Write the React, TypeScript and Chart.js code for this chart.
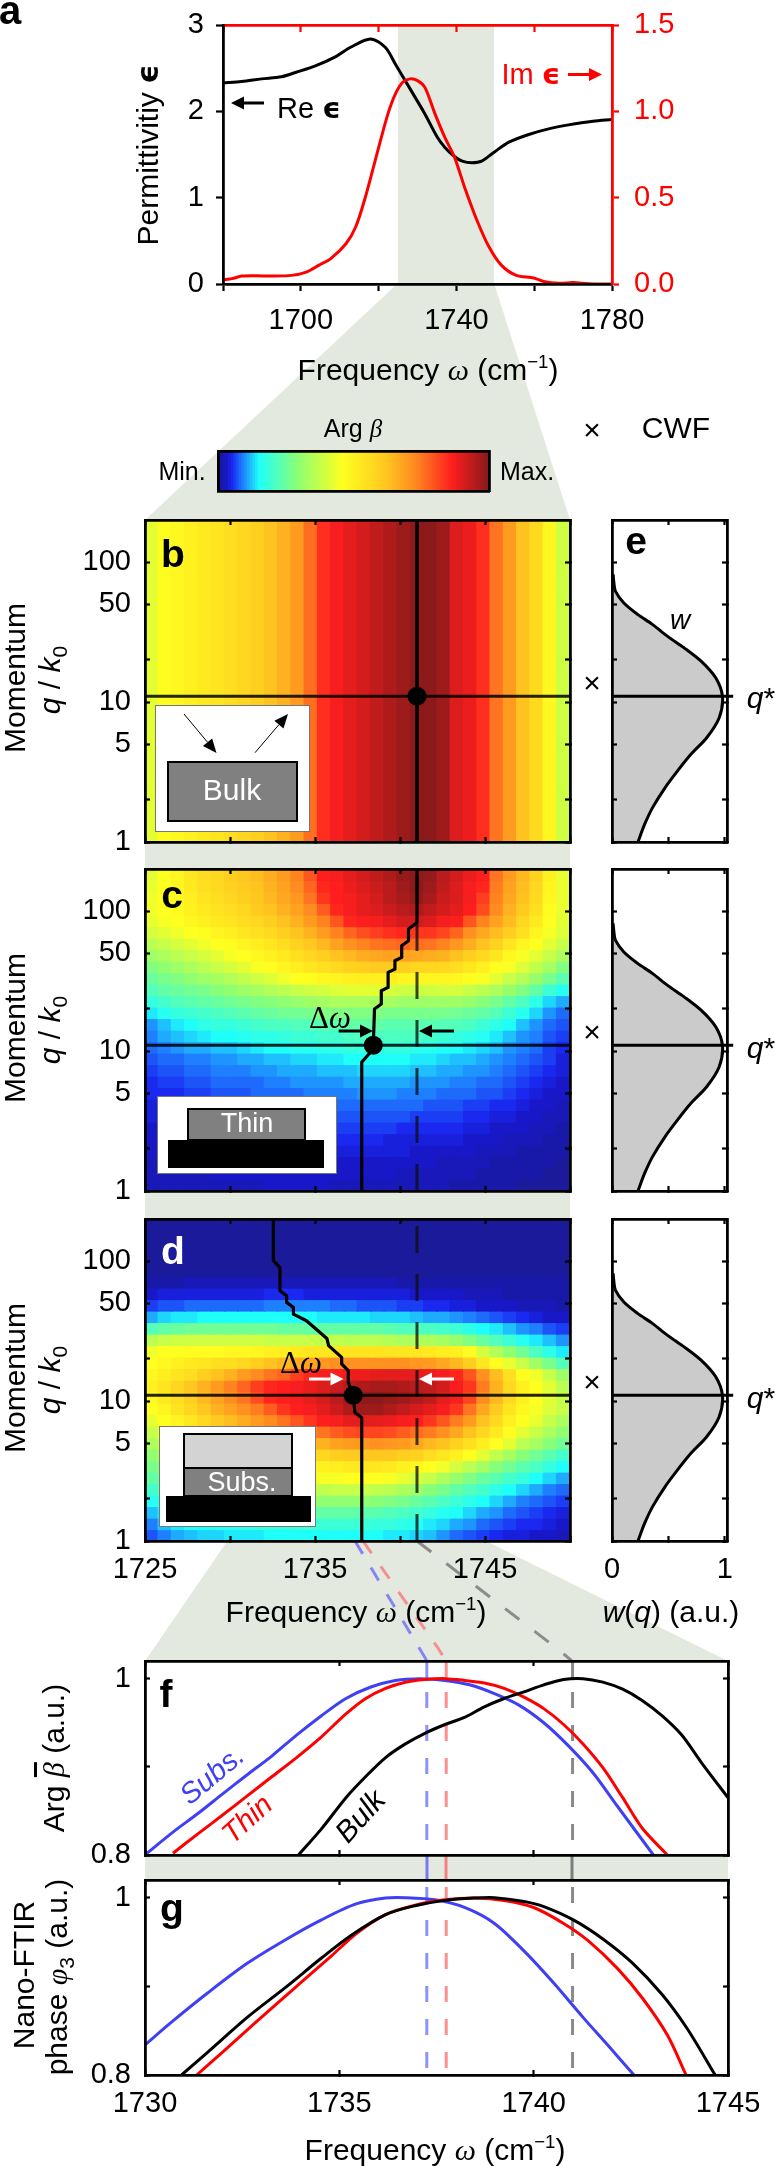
import React, { useEffect, useRef } from "react";
import { Chart, registerables } from "chart.js";

Chart.register(...registerables);

const FONT = "'Liberation Sans', Arial, sans-serif";
const SERIF = "'Liberation Serif', 'DejaVu Serif', serif";

// ---- panel a
const reFreq = [1680,1684.8,1689.9,1695,1698.8,1703.9,1709,1712.8,1717.9,1721.7,1724.3,1728.1,1731.9,1735.1,1737,1739.5,1741.5,1744,1746.5,1749.7,1753.5,1758.6,1763.7,1768.8,1775.1,1780];
const reVal = [2.33,2.345,2.376,2.4,2.453,2.53,2.634,2.742,2.838,2.742,2.549,2.26,1.97,1.7,1.585,1.477,1.423,1.404,1.423,1.527,1.643,1.732,1.797,1.843,1.886,1.905];
const imFreq = [1680,1682.3,1684.8,1688.7,1692.5,1697.6,1701.4,1704.6,1707.7,1711.6,1714.1,1716.6,1719.8,1722.4,1724.3,1726.2,1728.1,1730,1731.9,1734.5,1737,1739.5,1742.1,1745.3,1748.4,1751.6,1755.4,1759.9,1762.4,1766.3,1770,1773.9,1780];
const imVal = [0.025,0.031,0.046,0.048,0.046,0.05,0.069,0.108,0.147,0.233,0.33,0.503,0.773,0.985,1.1,1.168,1.188,1.178,1.139,0.985,0.85,0.735,0.561,0.368,0.214,0.108,0.05,0.035,0.015,0.004,0.008,0.002,0];

// ---- heatmap grid
const freqCols = [1725.391,1726.172,1726.953,1727.734,1728.516,1729.297,1730.078,1730.859,1731.641,1732.422,1733.203,1733.984,1734.766,1735.547,1736.328,1737.109,1737.891,1738.672,1739.453,1740.234,1741.016,1741.797,1742.578,1743.359,1744.141,1744.922,1745.703,1746.484,1747.266,1748.047,1748.828,1749.609];
const qEdges = [200,165.5,137,113.4,93.8,77.6,64.3,53.2,44.01,36.43,30.15,24.95,20.65,17.09,14.14,11.7,9.685,8.015,6.633,5.49,4.543,3.76,3.112,2.575,2.131,1.764,1.46,1.208,1];

const heatB = [42,47,48,50,52,54,56,58,60,63,66,70,77,85,88,90,92,94,96,98,100,100,98,91,89,85,76,70,63,57,48,39];

const heatC = [
[42,46,49,53,56,58,60,62,64,67,70,74,80,87,88,90,92,94,96,99,100,99,95,92,89,87,76,70,65,59,50,43],
[43,46,49,52,55,57,59,61,63,66,69,73,78,86,87,89,91,93,95,98,100,98,94,91,88,86,75,69,64,58,49,43],
[44,46,48,51,54,56,58,60,62,65,68,71,76,84,87,88,90,92,95,97,99,97,93,91,88,83,74,68,63,57,48,43],
[44,46,47,50,52,54,56,58,61,63,66,69,73,79,86,88,90,91,93,95,96,94,92,90,87,81,73,66,61,55,47,43],
[43,45,46,48,50,52,54,56,58,60,63,66,70,74,80,86,87,88,90,92,92,91,88,87,80,74,69,64,58,52,46,42],
[40,42,44,46,47,49,51,53,55,57,60,63,66,70,74,78,81,83,85,86,84,84,82,78,72,68,64,60,55,49,45,41],
[36,38,40,42,44,46,47,49,51,53,56,59,62,65,69,72,74,76,77,78,77,76,74,71,67,63,59,54,49,46,42,38],
[32,34,36,38,40,42,45,46,48,50,52,55,58,60,63,65,67,68,69,69,68,67,66,63,60,57,53,48,45,42,38,34],
[28,30,32,34,36,38,40,42,45,47,49,51,53,55,57,59,60,61,61,60,58,58,58,56,53,50,47,45,41,37,33,28],
[25,27,28,30,32,33,35,37,39,41,44,46,47,48,49,50,51,51,50,49,48,49,49,48,47,45,42,38,35,31,27,23],
[22,24,25,26,27,29,30,32,33,35,36,38,39,40,41,42,42,42,40,39,38,39,40,40,38,36,34,31,28,24,19,16],
[18,20,22,23,24,25,26,27,28,29,30,31,32,33,34,34,34,33,33,32,32,32,32,32,31,29,27,24,21,17,13,11],
[14,16,18,19,20,21,22,23,24,25,26,26,27,28,28,28,28,28,27,27,27,27,27,26,25,24,22,19,16,13,10,8],
[10,12,14,15,17,18,18,19,20,21,21,22,22,23,23,24,24,24,23,23,23,23,22,22,21,19,17,15,12,10,8,7],
[9,11,12,13,14,15,15,16,17,17,18,19,19,20,20,21,21,21,21,21,21,20,19,18,17,16,14,12,10,9,7,6],
[8,9,10,11,11,12,12,13,14,15,15,16,16,17,17,18,18,18,18,18,17,16,15,15,14,13,12,10,9,8,6,5],
[7,8,8,9,9,10,10,11,11,12,12,13,13,14,14,15,15,15,15,15,14,14,13,12,12,11,10,9,8,7,6,4],
[6,7,7,8,8,9,9,9,10,10,11,11,11,12,12,12,13,13,13,13,12,12,11,11,10,10,9,8,7,6,5,4],
[5,6,6,7,7,8,8,8,8,9,9,10,10,10,10,11,11,11,11,11,10,10,10,9,9,8,8,7,6,5,4,3],
[5,5,5,6,6,7,7,7,8,8,8,8,9,9,9,9,10,10,10,9,9,9,8,8,8,7,7,6,5,4,3,3],
[4,4,5,5,5,6,6,6,7,7,7,7,8,8,8,8,8,8,8,8,8,7,7,7,6,6,5,5,4,3,3,2],
[4,4,4,5,5,5,5,5,6,6,6,6,7,7,7,7,7,7,7,7,6,6,6,6,5,5,4,4,3,3,2,2],
[3,4,4,4,4,4,5,5,5,5,5,5,5,6,6,6,6,6,6,5,5,5,5,5,4,4,3,3,3,2,2,1],
[3,3,4,4,4,4,4,4,4,4,4,5,5,5,5,5,5,5,4,4,4,4,4,4,3,3,3,2,2,2,1,1],
[3,3,3,3,3,3,4,4,4,4,4,4,4,4,4,4,4,4,4,4,3,3,3,3,3,2,2,2,1,1,1,1],
[2,3,3,3,3,3,3,3,3,3,3,3,3,3,3,3,3,3,3,3,3,3,2,2,2,2,1,1,1,1,1,0],
[2,2,2,2,2,3,3,3,3,3,3,3,3,3,3,3,3,3,3,2,2,2,2,2,2,1,1,1,1,1,0,0],
[2,2,2,2,2,2,2,2,2,3,3,3,3,3,2,2,2,2,2,2,2,2,2,1,1,1,1,1,0,0,0,0],
];

const heatD = [
[0,0,0,0,0,0,0,0,0,0,0,0,0,0,0,0,0,0,0,0,0,0,0,0,0,0,0,0,0,0,0,0],
[0,0,0,0,0,0,0,0,0,0,0,0,0,0,0,0,0,0,0,0,0,0,0,0,0,0,0,0,0,0,0,0],
[0,0,0,0,0,0,0,0,0,0,0,0,0,0,0,0,0,0,0,0,0,0,0,0,0,0,0,0,0,0,0,0],
[0,0,0,0,0,0,0,0,0,0,0,0,0,0,0,0,0,0,0,0,0,0,0,0,0,0,0,0,0,0,0,0],
[0,0,0,0,0,0,0,0,0,0,0,0,0,0,0,0,0,0,0,0,0,0,0,0,0,0,0,0,0,0,0,0],
[1,1,1,2,2,2,2,2,2,2,2,2,2,2,2,2,2,2,2,1,1,1,1,1,1,1,1,1,1,1,1,1],
[3,4,4,4,4,4,4,4,4,5,5,5,4,4,4,4,4,4,4,4,3,3,3,3,2,2,2,1,1,1,1,1],
[6,7,7,8,8,8,8,8,8,9,9,9,9,9,8,8,7,7,7,6,6,5,5,4,4,3,3,3,2,2,2,1],
[11,13,14,14,15,15,15,15,15,15,15,15,15,14,14,14,14,13,13,13,12,11,11,10,9,8,7,6,5,4,3,3],
[22,24,25,26,26,26,26,26,26,26,25,25,24,24,24,24,24,24,23,22,22,21,20,19,17,15,14,12,10,9,7,6],
[36,38,39,39,39,39,39,39,39,38,38,38,38,37,37,36,36,36,35,34,34,34,33,31,28,25,22,19,16,14,12,10],
[44,46,46,47,47,47,48,48,49,50,51,52,53,53,54,54,54,54,54,53,53,52,51,50,47,40,35,30,26,21,17,14],
[46,48,50,52,53,55,56,58,60,63,65,67,69,71,72,72,72,72,72,72,71,70,68,65,60,53,47,43,38,32,27,22],
[48,51,54,56,60,63,66,70,73,76,78,83,86,88,88,89,89,90,90,90,90,89,88,86,80,72,64,55,47,44,38,32],
[50,54,58,62,66,70,74,78,83,86,87,88,89,91,93,95,96,97,97,96,95,94,92,88,84,75,66,57,50,46,42,36],
[48,52,56,60,65,69,73,76,81,86,87,88,90,92,95,98,100,100,99,98,96,94,90,88,82,73,65,57,50,46,42,38],
[46,49,54,58,62,66,69,72,75,79,84,87,88,90,93,96,98,98,96,94,92,90,88,84,76,68,61,54,48,45,41,38],
[43,46,49,53,57,61,64,67,70,73,76,80,84,87,88,90,90,90,89,88,87,84,80,75,70,63,57,50,46,43,38,34],
[38,42,45,48,52,55,58,61,64,66,68,71,73,76,79,81,82,82,81,79,77,75,72,68,63,58,52,47,42,38,34,30],
[34,38,42,45,47,49,52,54,56,58,60,62,65,66,69,70,71,72,71,70,68,65,63,59,55,51,46,42,36,33,29,26],
[30,34,38,41,44,46,47,49,50,52,53,55,56,58,60,61,62,62,62,60,59,56,53,50,46,42,37,33,29,26,23,20],
[27,30,33,36,39,41,43,45,46,46,47,47,49,50,51,52,53,53,52,50,48,46,44,40,36,33,29,26,23,21,18,15],
[24,26,29,31,34,36,38,39,40,41,42,43,44,45,45,46,46,46,45,43,40,38,34,31,28,25,23,20,18,15,13,11],
[20,23,25,27,29,30,31,32,33,34,35,36,37,37,38,38,38,37,36,34,32,29,27,24,22,20,17,15,13,11,9,8],
[16,18,20,22,23,24,25,26,27,28,29,29,30,30,30,30,30,29,28,27,25,23,21,19,17,15,13,11,9,8,7,6],
[12,14,16,17,18,19,20,21,22,22,23,23,24,24,24,24,23,23,22,21,20,18,16,15,13,11,10,8,7,6,5,4],
[9,12,14,15,15,16,16,17,18,18,18,19,19,19,19,19,19,18,18,17,16,14,13,11,10,8,7,6,5,5,4,3],
[7,9,11,12,13,13,14,14,14,15,15,15,15,15,15,15,15,15,14,14,13,12,10,8,7,6,5,4,4,3,3,2],
];

// ---- maxima ridges in c and d
const ridgeCFreq = [1741,1741,1740.5,1740.5,1740.1,1740.1,1739.7,1739.7,1739.3,1739.3,1738.9,1738.9,1738.5,1738.43,1738.2,1737.75,1737.75];
const ridgeCQ = [200,83,74.4,61.5,56.6,46.7,44.2,38.5,36.5,28.5,27,21.7,20,11,9.6,8.34,1];
const ridgeDFreq = [1732.55,1732.55,1732.94,1732.94,1733.33,1733.33,1733.73,1733.73,1734.5,1735.7,1735.8,1736.57,1736.57,1736.96,1736.96,1737.25,1737.35,1737.75,1737.75];
const ridgeDQ = [200,100.7,90,61.5,56.6,50.7,46.7,41.8,37.5,28,24.9,20.5,18.4,16.5,13.6,10.9,8.3,7.6,1];
const qStar = 11;
const bulkPeak = 1741;
const thinPeak = 1738.43;
const subsPeak = 1737.25;

// ---- CWF
const cwfW = [0.01,0.017,0.03,0.105,0.227,0.358,0.49,0.64,0.79,0.92,0.98,0.95,0.84,0.7,0.58,0.47,0.36,0.29,0.23];
const cwfQ = [81.7,71,62,51,42.3,35.9,29.6,24.4,19.6,14.9,10.9,7.7,5.56,4.23,3.21,2.44,1.76,1.34,1];

// ---- panel f
const fBulkX = [1733.95,1734.54,1735.17,1735.68,1736.19,1736.7,1737.2,1737.72,1738.22,1738.73,1739.24,1739.75,1740.26,1740.77,1741.27,1741.78,1742.29,1742.8,1743.3,1743.81,1744.32,1745];
const fBulkY = [0.8,0.8296,0.865,0.889,0.9105,0.926,0.938,0.948,0.956,0.968,0.9775,0.985,0.993,0.999,1,0.996,0.988,0.975,0.958,0.936,0.9045,0.865];
const fThinX = [1730.72,1731.36,1731.99,1732.63,1733.27,1733.9,1734.54,1735.17,1735.68,1736.19,1736.7,1737.2,1737.72,1738.22,1738.73,1739.24,1739.75,1740.26,1740.77,1741.27,1741.78,1742.29,1742.8,1743.44];
const fThinY = [0.802,0.824,0.845,0.867,0.889,0.9105,0.934,0.96,0.9775,0.989,0.996,0.999,1,0.998,0.995,0.989,0.979,0.966,0.948,0.926,0.899,0.865,0.83,0.8];
const fSubsX = [1730.05,1730.72,1731.36,1731.99,1732.63,1733.27,1733.9,1734.54,1735.17,1735.81,1736.44,1737.08,1737.72,1738.35,1738.99,1739.62,1740.26,1740.89,1741.53,1742.16,1743.08];
const fSubsY = [0.802,0.826,0.847,0.869,0.891,0.9125,0.936,0.958,0.9775,0.9905,0.998,1,0.998,0.993,0.983,0.97,0.95,0.924,0.893,0.855,0.8];

// ---- panel g
const gBulkX = [1730.94,1731.61,1732.63,1733.65,1734.54,1735.3,1736.19,1736.95,1737.72,1738.48,1738.99,1739.75,1740.26,1741.02,1741.78,1742.55,1743.31,1743.94,1744.67];
const gBulkY = [0.8,0.8256,0.865,0.9,0.932,0.9575,0.981,0.991,0.997,0.9996,1,0.9957,0.99,0.975,0.9535,0.926,0.8906,0.853,0.8];
const gThinX = [1731.33,1731.99,1732.89,1733.9,1734.79,1735.43,1736.19,1736.95,1737.72,1738.48,1739.24,1740,1740.77,1741.4,1742.16,1742.8,1743.44,1743.92];
const gThinY = [0.8,0.8256,0.861,0.9,0.934,0.9594,0.981,0.9917,0.9976,0.9996,0.9969,0.989,0.971,0.9516,0.92,0.8866,0.845,0.8];
const gSubsX = [1730,1730.72,1731.61,1732.63,1733.65,1734.54,1735.43,1736.19,1736.7,1737.46,1738.22,1738.99,1739.75,1740.51,1741.27,1741.91,1742.58];
const gSubsY = [0.834,0.861,0.8925,0.926,0.9535,0.975,0.993,0.9996,1,0.9976,0.989,0.971,0.94,0.904,0.865,0.8335,0.8];
const peakSubs = 1737.25;
const peakThin = 1737.75;
const peakBulk = 1741;

// ---- ticks
const aXTicks = [1680,1700,1720,1740,1760,1780];
const aXLabels = ["","1700","","1740","","1780"];
const aReTicks = [0,1,2,3];
const aReLabels = ["0","1","2","3"];
const aImTicks = [0,0.5,1,1.5];
const aImLabels = ["0.0","0.5","1.0","1.5"];
const heatXTicks = [1725,1730,1735,1740,1745,1750];
const heatXLabels = ["1725","","1735","","1745",""];
const qTicks = [1,2,5,10,20,50,100];
const qLabels = ["1","","5","10","","50","100"];
const wTicks = [0,0.5,1];
const wLabels = ["0","","1"];
const specXTicks = [1730,1735,1740,1745];
const specXLabels = ["1730","1735","1740","1745"];
const specYTicks = [0.8,0.9,1];
const specYLabels = ["0.8","","1"];

// ---- colour map (level 0..100)
const cmapLevels = [0,3,5,9,15,30,46,62,73,87,100];
const cmapColors = [[26,26,154],[24,24,200],[26,40,240],[30,128,255],[30,255,250],[144,255,112],[255,255,32],[255,200,32],[255,140,32],[255,30,30],[140,26,26]];
function cmap(l: number) {
  let i = 0;
  while (i < cmapLevels.length - 2 && l > cmapLevels[i + 1]) i++;
  const t = (l - cmapLevels[i]) / (cmapLevels[i + 1] - cmapLevels[i]);
  const a = cmapColors[i], b = cmapColors[i + 1];
  return `rgb(${a.map((v, k) => Math.round(v + (b[k] - v) * t)).join(",")})`;
}

const zip = (xs: number[], ys: number[]) => xs.map((x, i) => ({ x, y: ys[i] }));

function axis(position: string, o: any) {
  const horizontal = position === "top" || position === "bottom";
  const color = o.color || "#000";
  return {
    type: o.type || "linear",
    position,
    min: o.min,
    max: o.max,
    offset: false,
    afterBuildTicks: (s: any) => { s.ticks = (o.ticks || []).map((value: number) => ({ value })); },
    afterFit: (s: any) => {
      if (horizontal) s.height = o.size; else s.width = o.size;
      s.paddingLeft = s.paddingRight = s.paddingTop = s.paddingBottom = 0;
    },
    grid: { display: true, offset: false, drawOnChartArea: false, drawTicks: true, tickLength: o.len ?? -5, tickColor: o.tickColor || color, tickWidth: 2.2, z: 1 },
    border: { display: true, color, width: o.width ?? 2.8, z: 1 },
    ticks: {
      display: !!o.labels,
      autoSkip: false,
      maxRotation: 0,
      minRotation: 0,
      padding: o.padding ?? 8,
      color,
      font: { size: o.fontSize || 29, family: FONT },
      callback: (_v: any, i: number) => (o.labels ? o.labels[i] : ""),
    },
  };
}

const line = (data: any[], color: string, width: number, extra: any = {}) => ({
  type: "line", data, borderColor: color, backgroundColor: color, borderWidth: width,
  pointRadius: 0, tension: 0, fill: false, order: 1, borderJoinStyle: "round", ...extra,
});

function heatDatasets(grid: number[][]) {
  return grid.map((row, r) => ({
    type: "bar",
    data: row.map((_, c) => ({ x: freqCols[c], y: [qEdges[r + 1], qEdges[r]] })),
    backgroundColor: row.map(cmap),
    borderWidth: 0,
    inflateAmount: 0.6,
    grouped: false,
    barPercentage: 1.03,
    categoryPercentage: 1,
    order: 10,
  }));
}

const heatScales = (withLabels: boolean, b: number) => ({
  x: axis("bottom", { min: 1725, max: 1750, ticks: heatXTicks, labels: withLabels ? heatXLabels : null, size: b, padding: 17 }),
  x2: axis("top", { min: 1725, max: 1750, ticks: heatXTicks, size: 10 }),
  y: { ...axis("left", { type: "logarithmic", min: 1, max: 200, ticks: qTicks, labels: qLabels, size: 75, padding: 19 }) },
  y2: axis("right", { type: "logarithmic", min: 1, max: 200, ticks: qTicks, size: 10 }),
});

const dashed1741 = () => line([{ x: bulkPeak, y: 1 }, { x: bulkPeak, y: 200 }], "rgba(15,15,15,0.78)", 3, { borderDash: [27, 21], order: 3 });
const hLine = () => line([{ x: 1725, y: qStar }, { x: 1750, y: qStar }], "rgba(0,0,0,0.85)", 2.8, { order: 2 });
const dot = (x: number) => line([{ x, y: qStar }], "#000", 0, { showLine: false, pointRadius: 9.5, pointBackgroundColor: "#000", pointBorderWidth: 0, order: 0 });

const opts = (scales: any, extra: any = {}) => ({
  responsive: false,
  animation: false,
  layout: { padding: 0 },
  plugins: { legend: { display: false }, tooltip: { enabled: false } },
  events: [],
  scales,
  ...extra,
});

const specLineDash = (x: number, color: string, top: number, offset: number) =>
  line([{ x, y: 0.8 }, { x, y: top }], color, 3, { borderDash: [16, 17], borderDashOffset: offset, order: 2 });

type Spec = { id: string; l: number; t: number; r: number; b: number; ml: number; mt: number; mr: number; mb: number; config: () => any };

const HX1 = 145, HX2 = 570;
const EX1 = 612, EX2 = 727;

const cwfChart = (withLabels: boolean, b: number) => () => ({
  type: "line",
  data: {
    datasets: [
      line([{ x: 0, y: qStar }, { x: 1.075, y: qStar }], "#000", 3, { clip: false, order: 0 }),
      line(zip(cwfW, cwfQ), "#000", 3, { fill: "origin", backgroundColor: "#cbcbcb", tension: 0.3, order: 1 }),
    ],
  },
  options: opts({
    x: axis("bottom", { min: 0, max: 1.02, ticks: wTicks, labels: withLabels ? wLabels : null, size: b, padding: 17 }),
    x2: axis("top", { min: 0, max: 1.02, ticks: wTicks, size: 10 }),
    y: axis("left", { type: "logarithmic", min: 1, max: 200, ticks: qTicks, size: 10 }),
    y2: axis("right", { type: "logarithmic", min: 1, max: 200, ticks: qTicks, size: 50 }),
  }, { indexAxis: "y" }),
});

const SPECS: Spec[] = [
  {
    id: "a", l: 223, t: 24.5, r: 612, b: 283.5, ml: 120, mt: 20, mr: 100, mb: 60,
    config: () => ({
      type: "line",
      data: {
        datasets: [
          line(zip(reFreq, reVal), "#000", 3, { yAxisID: "y", tension: 0.3, order: 2 }),
          line(zip(imFreq, imVal), "#ff0000", 3, { yAxisID: "y2", tension: 0.3, order: 1 }),
        ],
      },
      options: opts({
        x: axis("bottom", { min: 1680, max: 1780, ticks: aXTicks, labels: aXLabels, size: 60, len: 7, padding: 13 }),
        x2: axis("top", { min: 1680, max: 1780, ticks: aXTicks, size: 20, color: "#ff0000", len: -7 }),
        y: axis("left", { min: 0, max: 3, ticks: aReTicks, labels: aReLabels, size: 120, len: 7, padding: 12 }),
        y2: axis("right", { min: 0, max: 1.5, ticks: aImTicks, labels: aImLabels, size: 100, color: "#ff0000", len: 7, padding: 15 }),
      }),
    }),
  },
  {
    id: "bar", l: 217.5, t: 451, r: 488, b: 491, ml: 5, mt: 5, mr: 5, mb: 5,
    config: () => ({
      type: "bar",
      data: {
        datasets: [{
          data: Array.from({ length: 101 }, (_, i) => ({ x: i, y: [0, 1] })),
          backgroundColor: Array.from({ length: 101 }, (_, i) => cmap(i)),
          borderWidth: 0, inflateAmount: 0.6, barPercentage: 1.03, categoryPercentage: 1,
        }],
      },
      options: opts({
        x: axis("bottom", { min: -0.5, max: 100.5, ticks: [], size: 5 }),
        x2: axis("top", { min: -0.5, max: 100.5, ticks: [], size: 5 }),
        y: axis("left", { min: 0, max: 1, ticks: [], size: 5 }),
        y2: axis("right", { min: 0, max: 1, ticks: [], size: 5 }),
      }),
    }),
  },
  {
    id: "b", l: HX1, t: 519.5, r: HX2, b: 841, ml: 75, mt: 10, mr: 10, mb: 15,
    config: () => ({
      type: "bar",
      data: {
        datasets: [
          {
            type: "bar",
            data: heatB.map((_, c) => ({ x: freqCols[c], y: [1, 200] })),
            backgroundColor: heatB.map(cmap),
            borderWidth: 0, inflateAmount: 0.6, grouped: false, barPercentage: 1.03, categoryPercentage: 1, order: 10,
          },
          line([{ x: bulkPeak, y: 1 }, { x: bulkPeak, y: 200 }], "#000", 3.6, { order: 2 }),
          hLine(),
          dot(bulkPeak),
        ],
      },
      options: opts(heatScales(false, 15)),
    }),
  },
  {
    id: "c", l: HX1, t: 868.5, r: HX2, b: 1190.5, ml: 75, mt: 10, mr: 10, mb: 15,
    config: () => ({
      type: "bar",
      data: { datasets: [...heatDatasets(heatC), dashed1741(), hLine(), line(zip(ridgeCFreq, ridgeCQ), "#000", 3.2, { order: 1 }), dot(thinPeak)] },
      options: opts(heatScales(false, 15)),
    }),
  },
  {
    id: "d", l: HX1, t: 1218.5, r: HX2, b: 1540.5, ml: 75, mt: 10, mr: 10, mb: 50,
    config: () => ({
      type: "bar",
      data: { datasets: [...heatDatasets(heatD), dashed1741(), hLine(), line(zip(ridgeDFreq, ridgeDQ), "#000", 3.2, { order: 1 }), dot(subsPeak)] },
      options: opts(heatScales(true, 50)),
    }),
  },
  { id: "e", l: EX1, t: 519.5, r: EX2, b: 841, ml: 10, mt: 10, mr: 50, mb: 15, config: cwfChart(false, 15) },
  { id: "e2", l: EX1, t: 868.5, r: EX2, b: 1190.5, ml: 10, mt: 10, mr: 50, mb: 15, config: cwfChart(false, 15) },
  { id: "e3", l: EX1, t: 1218.5, r: EX2, b: 1540.5, ml: 10, mt: 10, mr: 50, mb: 50, config: cwfChart(true, 50) },
  {
    id: "f", l: HX1, t: 1661, r: 728, b: 1855, ml: 75, mt: 10, mr: 40, mb: 10,
    config: () => ({
      type: "line",
      data: {
        datasets: [
          specLineDash(peakSubs, "rgba(70,70,245,0.6)", 1, 18),
          specLineDash(peakThin, "rgba(250,70,70,0.6)", 1, 18),
          specLineDash(peakBulk, "rgba(60,60,60,0.6)", 1, 18),
          line([{ x: peakSubs, y: 1 }, { x: peakSubs, y: 1.02 }], "rgba(70,70,245,0.6)", 3, { order: 2 }),
          line([{ x: peakThin, y: 1 }, { x: peakThin, y: 1.02 }], "rgba(250,70,70,0.6)", 3, { order: 2 }),
          line([{ x: peakBulk, y: 1 }, { x: peakBulk, y: 1.02 }], "rgba(60,60,60,0.6)", 3, { order: 2 }),
          line(zip(fBulkX, fBulkY), "#000", 3, { tension: 0.3 }),
          line(zip(fThinX, fThinY), "#ff0000", 3, { tension: 0.3 }),
          line(zip(fSubsX, fSubsY), "#3f3ff5", 3, { tension: 0.3 }),
        ],
      },
      options: opts({
        x: axis("bottom", { min: 1730, max: 1745, ticks: specXTicks, size: 10 }),
        x2: axis("top", { min: 1730, max: 1745, ticks: specXTicks, size: 10 }),
        y: axis("left", { min: 0.8, max: 1.02, ticks: specYTicks, labels: specYLabels, size: 75, padding: 19 }),
        y2: axis("right", { min: 0.8, max: 1.02, ticks: specYTicks, size: 40 }),
      }),
    }),
  },
  {
    id: "g", l: HX1, t: 1880, r: 728, b: 2075, ml: 75, mt: 10, mr: 40, mb: 60,
    config: () => ({
      type: "line",
      data: {
        datasets: [
          specLineDash(peakSubs, "rgba(70,70,245,0.6)", 1.02, 26),
          specLineDash(peakThin, "rgba(250,70,70,0.6)", 1.02, 26),
          specLineDash(peakBulk, "rgba(60,60,60,0.6)", 1.02, 26),
          line(zip(gBulkX, gBulkY), "#000", 3, { tension: 0.3 }),
          line(zip(gThinX, gThinY), "#ff0000", 3, { tension: 0.3 }),
          line(zip(gSubsX, gSubsY), "#3f3ff5", 3, { tension: 0.3 }),
        ],
      },
      options: opts({
        x: axis("bottom", { min: 1730, max: 1745, ticks: specXTicks, labels: specXLabels, size: 60, padding: 17 }),
        x2: axis("top", { min: 1730, max: 1745, ticks: specXTicks, size: 10 }),
        y: axis("left", { min: 0.8, max: 1.02, ticks: specYTicks, labels: specYLabels, size: 75, padding: 19 }),
        y2: axis("right", { min: 0.8, max: 1.02, ticks: specYTicks, size: 40 }),
      }),
    }),
  },
];

function T({ x, y, size = 29, rot = 0, color = "#000", bold = false, italic = false, font = FONT, children }: any) {
  return (
    <div style={{
      position: "absolute", left: x, top: y, transform: `translate(-50%,-50%) rotate(${rot}deg)`,
      fontFamily: font, fontSize: size, color, fontWeight: bold ? 700 : 400, fontStyle: italic ? "italic" : "normal",
      whiteSpace: "nowrap", lineHeight: 1,
    }}>{children}</div>
  );
}
const W = () => <i style={{ fontFamily: SERIF }}>ω</i>;
const Cm = () => <span>(cm<sup style={{ fontSize: "0.62em", lineHeight: 0, verticalAlign: "0.62em" }}>−1</sup>)</span>;
const Freq = () => <span>Frequency <W /> <Cm /></span>;
const Eps = () => <span style={{ fontFamily: "'DejaVu Sans'", fontWeight: 700, fontSize: "1em" }}>ϵ</span>;

function Arrow({ x1, y1, x2, y2, color = "#000", w = 3, hl = 13, hw = 6.5 }: any) {
  const a = Math.atan2(y2 - y1, x2 - x1), c = Math.cos(a), s = Math.sin(a);
  const bx = x2 - hl * c, by = y2 - hl * s;
  return (
    <g>
      <line x1={x1} y1={y1} x2={bx} y2={by} stroke={color} strokeWidth={w} />
      <polygon points={`${x2},${y2} ${bx - hw * s},${by + hw * c} ${bx + hw * s},${by - hw * c}`} fill={color} />
    </g>
  );
}

const SHADE = "#e4e9e0";

export default function App() {
  const refs = useRef<Record<string, HTMLCanvasElement | null>>({});
  useEffect(() => {
    const charts = SPECS.map((s) => new Chart(refs.current[s.id] as HTMLCanvasElement, s.config()));
    return () => charts.forEach((c) => c.destroy());
  }, []);

  return (
    <div style={{ position: "absolute", left: 0, top: 0, width: 775, height: 2166, overflow: "hidden", background: "#fff", fontFamily: FONT }}>
      <svg width={775} height={2166} style={{ position: "absolute", left: 0, top: 0 }}>
        <rect x={398} y={24} width={96} height={260} fill={SHADE} />
        <polygon points="398,283 494,283 570,520 145,520" fill={SHADE} />
        <rect x={145} y={520} width={425} height={1021} fill={SHADE} />
        <polygon points="228,1540 484,1540 728,1661 145,1661" fill={SHADE} />
        <rect x={145} y={1855} width={583} height={25} fill={SHADE} />
        <polyline points="355,1541 427,1661" fill="none" stroke="#8686f0" strokeWidth={3} strokeDasharray="15 16" />
        <polyline points="363,1541 438,1648 446,1661" fill="none" stroke="#f49090" strokeWidth={3} strokeDasharray="15 16" />
        <polyline points="417,1541 559,1650 572,1661" fill="none" stroke="#8c8c8c" strokeWidth={3} strokeDasharray="18 19" />
        <line x1={427} y1={1855} x2={427} y2={1880} stroke="#7a7af0" strokeWidth={3} />
        <line x1={446} y1={1855} x2={446} y2={1880} stroke="#f58080" strokeWidth={3} />
        <line x1={572} y1={1855} x2={572} y2={1880} stroke="#7d7d7d" strokeWidth={3} />
      </svg>

      {SPECS.map((s) => (
        <canvas
          key={s.id}
          ref={(el) => { refs.current[s.id] = el; }}
          width={Math.round(s.r - s.l + s.ml + s.mr)}
          height={Math.round(s.b - s.t + s.mt + s.mb)}
          style={{ position: "absolute", left: s.l - s.ml, top: s.t - s.mt }}
        />
      ))}

      {/* insets */}
      <div style={{ position: "absolute", left: 155, top: 705, width: 155, height: 127, background: "#fff", border: "1px solid #777", boxSizing: "border-box" }} />
      <div style={{ position: "absolute", left: 167, top: 761, width: 131, height: 61, background: "#808080", border: "2px solid #000", boxSizing: "border-box" }} />
      <div style={{ position: "absolute", left: 157, top: 1096, width: 180, height: 78, background: "#fff", border: "1px solid #777", boxSizing: "border-box" }} />
      <div style={{ position: "absolute", left: 187, top: 1108, width: 119, height: 33, background: "#808080", border: "2px solid #000", boxSizing: "border-box" }} />
      <div style={{ position: "absolute", left: 168, top: 1140, width: 156, height: 28, background: "#000" }} />
      <div style={{ position: "absolute", left: 159, top: 1426, width: 157, height: 101, background: "#fff", border: "1px solid #777", boxSizing: "border-box" }} />
      <div style={{ position: "absolute", left: 183, top: 1433, width: 110, height: 36, background: "#d3d3d3", border: "2px solid #000", boxSizing: "border-box" }} />
      <div style={{ position: "absolute", left: 183, top: 1467, width: 110, height: 30, background: "#808080", border: "2px solid #000", boxSizing: "border-box" }} />
      <div style={{ position: "absolute", left: 166, top: 1496, width: 145, height: 26, background: "#000" }} />

      <svg width={775} height={2166} style={{ position: "absolute", left: 0, top: 0, pointerEvents: "none" }}>
        <Arrow x1={264} y1={103} x2={231} y2={103} />
        <Arrow x1={568} y1={74.5} x2={602} y2={74.5} color="#ff0000" />
        <Arrow x1={184} y1={714} x2={216.5} y2={753} w={1} hl={14} hw={6} />
        <Arrow x1={255} y1={752.7} x2={288} y2={714} w={1} hl={14} hw={6} />
        <Arrow x1={338.6} y1={1031} x2={373} y2={1031} />
        <Arrow x1={454} y1={1031} x2={419} y2={1031} />
        <Arrow x1={309} y1={1379} x2={343.5} y2={1379} color="#fff" />
        <Arrow x1={454} y1={1379} x2={419} y2={1379} color="#fff" />
      </svg>

      <T x={10} y={10} size={40} bold>a</T>
      <T x={173} y={553} size={39} bold>b</T>
      <T x={172} y={894} size={39} bold>c</T>
      <T x={173} y={1250} size={39} bold color="#fff">d</T>
      <T x={636} y={540} size={39} bold>e</T>
      <T x={166} y={1693} size={39} bold>f</T>
      <T x={172} y={1907} size={39} bold>g</T>

      <T x={148} y={155} rot={-90} size={30}>Permittivitiy <Eps /></T>
      <T x={309} y={108}>Re <Eps /></T>
      <T x={531} y={74} color="#ff0000">Im <Eps /></T>
      <T x={428} y={370} size={30}><Freq /></T>
      <T x={353} y={428} size={25}>Arg <i style={{ fontFamily: SERIF }}>β</i></T>
      <T x={182} y={471} size={25}>Min.</T>
      <T x={527} y={471} size={25}>Max.</T>
      <T x={592} y={430} size={30}>×</T>
      <T x={676} y={428} size={30}>CWF</T>

      {[678, 1028, 1378].map((y) => (
        <React.Fragment key={y}>
          <T x={15} y={y} rot={-90} size={30}>Momentum</T>
          <T x={50} y={y + 2} rot={-90} size={30}><i>q</i> / <i>k</i><sub style={{ fontSize: "0.7em", lineHeight: 0 }}>0</sub></T>
        </React.Fragment>
      ))}
      {[683, 1032, 1382].map((y) => <T key={y} x={592} y={y} size={30}>×</T>)}
      {[698, 1048, 1398].map((y) => <T key={y} x={761} y={y} size={30}><i>q</i>*</T>)}
      <T x={680} y={620} size={28} italic>w</T>

      <T x={232} y={790} size={30} color="#fff">Bulk</T>
      <T x={247} y={1123} size={27} color="#fff">Thin</T>
      <T x={242} y={1482} size={27} color="#fff">Subs.</T>

      <T x={330} y={1017} size={31} font={SERIF}>Δ<i>ω</i></T>
      <T x={301} y={1362} size={31} font={SERIF}>Δ<i>ω</i></T>

      <T x={356} y={1612} size={30}><Freq /></T>
      <T x={671} y={1612} size={30}><i>w</i>(<i>q</i>) (a.u.)</T>

      <T x={212} y={1775} size={29} rot={-40} italic color="#3f3ff5">Subs.</T>
      <T x={247} y={1819} size={29} rot={-42} italic color="#ff0000">Thin</T>
      <T x={360} y={1816} size={30} rot={-48} italic>Bulk</T>

      <T x={54} y={1758} rot={-90} size={30}>Arg <i style={{ fontFamily: SERIF, textDecoration: "overline" }}>β</i> (a.u.)</T>
      <T x={24} y={1975} rot={-90} size={30}>Nano-FTIR</T>
      <T x={57} y={1977} rot={-90} size={30}>phase <i style={{ fontFamily: SERIF }}>φ</i><sub style={{ fontSize: "0.7em", lineHeight: 0 }}>3</sub> (a.u.)</T>
      <T x={435} y={2150} size={30}><Freq /></T>
    </div>
  );
}
